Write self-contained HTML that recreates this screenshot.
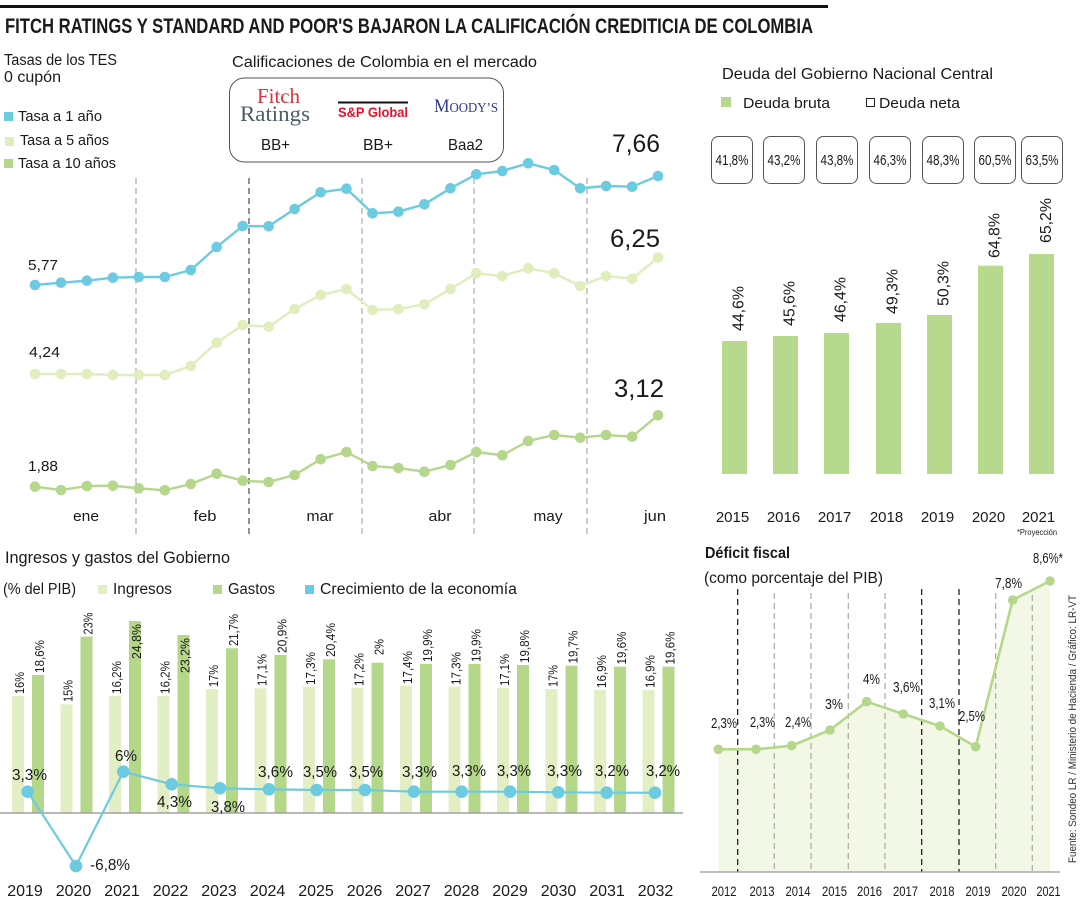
<!DOCTYPE html>
<html><head><meta charset="utf-8"><style>
html,body{margin:0;padding:0;background:#fff;}
svg{display:block;}
text{font-family:"Liberation Sans",sans-serif;fill:#1a1a1a;}
.s{font-family:"Liberation Serif",serif;}
</style></head><body>
<svg width="1080" height="900" viewBox="0 0 1080 900" xmlns="http://www.w3.org/2000/svg">
<defs>
<marker id="mb" markerUnits="userSpaceOnUse" markerWidth="14" markerHeight="14" refX="7" refY="7"><circle cx="7" cy="7" r="5.3" fill="#6ccbe0"/></marker>
<marker id="m5" markerUnits="userSpaceOnUse" markerWidth="14" markerHeight="14" refX="7" refY="7"><circle cx="7" cy="7" r="5.3" fill="#e0edbd"/></marker>
<marker id="m10" markerUnits="userSpaceOnUse" markerWidth="14" markerHeight="14" refX="7" refY="7"><circle cx="7" cy="7" r="5.3" fill="#b5d78b"/></marker>
<marker id="mg" markerUnits="userSpaceOnUse" markerWidth="16" markerHeight="16" refX="8" refY="8"><circle cx="8" cy="8" r="6.3" fill="#6ccbe0"/></marker>
<marker id="md" markerUnits="userSpaceOnUse" markerWidth="12" markerHeight="12" refX="6" refY="6"><circle cx="6" cy="6" r="4.8" fill="#b5d78b"/></marker>
</defs>

<!-- top rule and title -->
<rect x="0" y="5" width="828" height="3" fill="#111"/>
<text x="5" y="33" font-size="21" font-weight="bold" textLength="808" lengthAdjust="spacingAndGlyphs">FITCH RATINGS Y STANDARD AND POOR'S BAJARON LA CALIFICACIÓN CREDITICIA DE COLOMBIA</text>

<!-- TES header + legend -->
<text x="4" y="65" font-size="15.5" textLength="113" lengthAdjust="spacingAndGlyphs">Tasas de los TES</text>
<text x="4" y="82" font-size="15.5" textLength="57" lengthAdjust="spacingAndGlyphs">0 cupón</text>
<rect x="4" y="112" width="9" height="9" fill="#6ccbe0"/>
<text x="18" y="121" font-size="15" textLength="84" lengthAdjust="spacingAndGlyphs">Tasa a 1 año</text>
<rect x="5" y="137" width="9" height="9" fill="#e0edbd"/>
<text x="20" y="145" font-size="15" textLength="89" lengthAdjust="spacingAndGlyphs">Tasa a 5 años</text>
<rect x="4" y="159" width="9" height="9" fill="#b5d78b"/>
<text x="18" y="168" font-size="15" textLength="98" lengthAdjust="spacingAndGlyphs">Tasa a 10 años</text>

<!-- ratings -->
<text x="232" y="67" font-size="15.5" textLength="305" lengthAdjust="spacingAndGlyphs">Calificaciones de Colombia en el mercado</text>
<rect x="229.5" y="78" width="274" height="84" rx="15" fill="#fff" stroke="#555" stroke-width="1"/>
<text class="s" x="257" y="103" font-size="21" fill="#d8323c" style="fill:#d8323c" textLength="43" lengthAdjust="spacingAndGlyphs">Fitch</text>
<text class="s" x="240" y="121" font-size="22" style="fill:#4d5d66" textLength="70" lengthAdjust="spacingAndGlyphs">Ratings</text>
<line x1="338" y1="102.5" x2="408" y2="102.5" stroke="#111" stroke-width="2"/>
<text x="338" y="117" font-size="13.5" font-weight="bold" style="fill:#e8112d" textLength="70" lengthAdjust="spacingAndGlyphs">S&amp;P Global</text>
<text class="s" x="434" y="112" font-size="19" style="fill:#2b3990" textLength="64" lengthAdjust="spacingAndGlyphs">M<tspan font-size="14">OODY’S</tspan></text>
<text x="261" y="150" font-size="16" textLength="29" lengthAdjust="spacingAndGlyphs">BB+</text>
<text x="363" y="150" font-size="16" textLength="30" lengthAdjust="spacingAndGlyphs">BB+</text>
<text x="448" y="150" font-size="16" textLength="35" lengthAdjust="spacingAndGlyphs">Baa2</text>

<!-- line chart dashed -->
<g stroke-width="1" stroke-dasharray="6 4" fill="none">
<line x1="136" y1="178" x2="136" y2="537" stroke="#999"/>
<line x1="249" y1="178" x2="249" y2="537" stroke="#222"/>
<line x1="362" y1="178" x2="362" y2="537" stroke="#999"/>
<line x1="474" y1="178" x2="474" y2="537" stroke="#999"/>
<line x1="587" y1="178" x2="587" y2="537" stroke="#999"/>
</g>
<g fill="none" stroke-width="2.4" stroke-linejoin="round">
<polyline stroke="#6ccbe0" marker-start="url(#mb)" marker-mid="url(#mb)" marker-end="url(#mb)" points="35,285 61,282.7 86.9,280.7 112.9,277.7 138.8,277 164.8,277 190.8,270 216.7,247 242.7,226 268.6,226.3 294.6,209 320.6,192.3 346.5,188.7 372.5,213.3 398.4,211.7 424.4,204.3 450.4,188.3 476.3,174.3 502.3,171 528.2,163.3 554.2,170 580.2,188.3 606.1,186 632.1,186.7 658,176"/>
<polyline stroke="#e0edbd" marker-start="url(#m5)" marker-mid="url(#m5)" marker-end="url(#m5)" points="35,374 61,374 86.9,374 112.9,375 138.8,375 164.8,375 190.8,366 216.7,342.7 242.7,325 268.6,326.7 294.6,309 320.6,295 346.5,289 372.5,310 398.4,309 424.4,304.3 450.4,289 476.3,273.3 502.3,276 528.2,268.3 554.2,273.3 580.2,286 606.1,276 632.1,278.7 658,257.7"/>
<polyline stroke="#b5d78b" marker-start="url(#m10)" marker-mid="url(#m10)" marker-end="url(#m10)" points="35,486.7 61,490 86.9,486 112.9,485.7 138.8,488.3 164.8,490.3 190.8,484 216.7,473.7 242.7,480.7 268.6,482 294.6,475 320.6,459.3 346.5,452 372.5,466 398.4,468 424.4,471.7 450.4,465 476.3,452 502.3,455.3 528.2,441 554.2,435 580.2,437.7 606.1,435 632.1,436.7 658,415.3"/>
</g>
<text x="28" y="270" font-size="15" textLength="30" lengthAdjust="spacingAndGlyphs">5,77</text>
<text x="29" y="357" font-size="15" textLength="31" lengthAdjust="spacingAndGlyphs">4,24</text>
<text x="28" y="471" font-size="15" textLength="30" lengthAdjust="spacingAndGlyphs">1,88</text>
<text x="612" y="152" font-size="25" textLength="48" lengthAdjust="spacingAndGlyphs">7,66</text>
<text x="610" y="247" font-size="25" textLength="50" lengthAdjust="spacingAndGlyphs">6,25</text>
<text x="614" y="397" font-size="25" textLength="50" lengthAdjust="spacingAndGlyphs">3,12</text>
<g font-size="15" text-anchor="middle">
<text x="86" y="521" textLength="26" lengthAdjust="spacingAndGlyphs">ene</text>
<text x="205" y="521" textLength="23" lengthAdjust="spacingAndGlyphs">feb</text>
<text x="320" y="521" textLength="27" lengthAdjust="spacingAndGlyphs">mar</text>
<text x="440" y="521" textLength="23" lengthAdjust="spacingAndGlyphs">abr</text>
<text x="548" y="521" textLength="29" lengthAdjust="spacingAndGlyphs">may</text>
<text x="655" y="521" textLength="22" lengthAdjust="spacingAndGlyphs">jun</text>
</g>

<!-- Deuda -->
<text x="722" y="79" font-size="16" textLength="271" lengthAdjust="spacingAndGlyphs">Deuda del Gobierno Nacional Central</text>
<rect x="721" y="97" width="10" height="10" fill="#b6d98e"/>
<text x="743" y="108" font-size="15" textLength="87" lengthAdjust="spacingAndGlyphs">Deuda bruta</text>
<rect x="866.5" y="98.5" width="8" height="8" fill="none" stroke="#222" stroke-width="1"/>
<text x="879" y="108" font-size="15" textLength="81" lengthAdjust="spacingAndGlyphs">Deuda neta</text>
<g fill="#fff" stroke="#555" stroke-width="1">
<rect x="711.5" y="136.5" width="41" height="47" rx="7"/>
<rect x="763.5" y="136.5" width="41" height="47" rx="7"/>
<rect x="816.5" y="136.5" width="41" height="47" rx="7"/>
<rect x="869.5" y="136.5" width="41" height="47" rx="7"/>
<rect x="922.5" y="136.5" width="41" height="47" rx="7"/>
<rect x="974.5" y="136.5" width="41" height="47" rx="7"/>
<rect x="1021.5" y="136.5" width="41" height="47" rx="7"/>
</g>
<g font-size="15" text-anchor="middle">
<text x="732" y="165" textLength="33" lengthAdjust="spacingAndGlyphs">41,8%</text>
<text x="784" y="165" textLength="33" lengthAdjust="spacingAndGlyphs">43,2%</text>
<text x="837" y="165" textLength="33" lengthAdjust="spacingAndGlyphs">43,8%</text>
<text x="890" y="165" textLength="33" lengthAdjust="spacingAndGlyphs">46,3%</text>
<text x="943" y="165" textLength="33" lengthAdjust="spacingAndGlyphs">48,3%</text>
<text x="995" y="165" textLength="33" lengthAdjust="spacingAndGlyphs">60,5%</text>
<text x="1042" y="165" textLength="33" lengthAdjust="spacingAndGlyphs">63,5%</text>
</g>
<g fill="#b6d98e">
<rect x="722" y="341" width="25" height="133"/>
<rect x="773" y="336" width="25" height="138"/>
<rect x="824" y="333" width="25" height="141"/>
<rect x="876" y="323" width="25" height="151"/>
<rect x="927" y="315" width="25" height="159"/>
<rect x="978" y="265.7" width="25" height="208.3"/>
<rect x="1029" y="254" width="25" height="220"/>
</g>
<g font-size="16">
<text transform="translate(743.5,331) rotate(-90)" textLength="45" lengthAdjust="spacingAndGlyphs">44,6%</text>
<text transform="translate(794.5,326) rotate(-90)" textLength="45" lengthAdjust="spacingAndGlyphs">45,6%</text>
<text transform="translate(845.5,322) rotate(-90)" textLength="45" lengthAdjust="spacingAndGlyphs">46,4%</text>
<text transform="translate(897.5,314) rotate(-90)" textLength="45" lengthAdjust="spacingAndGlyphs">49,3%</text>
<text transform="translate(948.5,306) rotate(-90)" textLength="45" lengthAdjust="spacingAndGlyphs">50,3%</text>
<text transform="translate(999.5,258) rotate(-90)" textLength="45" lengthAdjust="spacingAndGlyphs">64,8%</text>
<text transform="translate(1051,243) rotate(-90)" textLength="45" lengthAdjust="spacingAndGlyphs">65,2%</text>
</g>
<g font-size="15" text-anchor="middle">
<text x="732.5" y="522">2015</text>
<text x="783.5" y="522">2016</text>
<text x="834.5" y="522">2017</text>
<text x="886.5" y="522">2018</text>
<text x="937.5" y="522">2019</text>
<text x="988.5" y="522">2020</text>
<text x="1038.5" y="522">2021</text>
</g>
<text x="1017" y="535" font-size="8" textLength="40" lengthAdjust="spacingAndGlyphs">*Proyección</text>

<!-- Ingresos y gastos -->
<text x="5" y="563" font-size="16.5" textLength="225" lengthAdjust="spacingAndGlyphs">Ingresos y gastos del Gobierno</text>
<text x="3" y="594" font-size="15.5" textLength="73" lengthAdjust="spacingAndGlyphs">(% del PIB)</text>
<rect x="98" y="585" width="9" height="9" fill="#e2eec3"/>
<text x="113" y="594" font-size="15.5" textLength="59" lengthAdjust="spacingAndGlyphs">Ingresos</text>
<rect x="213" y="585" width="9" height="9" fill="#b4d78a"/>
<text x="228" y="594" font-size="15.5" textLength="47" lengthAdjust="spacingAndGlyphs">Gastos</text>
<rect x="305" y="585" width="9" height="9" fill="#6ccbe0"/>
<text x="320" y="594" font-size="15.5" textLength="197" lengthAdjust="spacingAndGlyphs">Crecimiento de la economía</text>

<g fill="#e2eec3">
<rect x="12" y="696" width="12" height="117"/>
<rect x="60.5" y="704.3" width="12" height="108.7"/>
<rect x="109" y="696" width="12" height="117"/>
<rect x="157.5" y="696" width="12" height="117"/>
<rect x="206" y="689" width="12" height="124"/>
<rect x="254.5" y="688.3" width="12" height="124.7"/>
<rect x="303" y="686.7" width="12" height="126.3"/>
<rect x="351.5" y="687.7" width="12" height="125.3"/>
<rect x="400" y="685.7" width="12" height="127.3"/>
<rect x="448.5" y="686.7" width="12" height="126.3"/>
<rect x="497" y="687.7" width="12" height="125.3"/>
<rect x="545.5" y="689" width="12" height="124"/>
<rect x="594" y="690" width="12" height="123"/>
<rect x="642.5" y="690" width="12" height="123"/>
</g>
<g fill="#b4d78a">
<rect x="32" y="675" width="12" height="138"/>
<rect x="80.5" y="636.7" width="12" height="176.3"/>
<rect x="129" y="621" width="12" height="192"/>
<rect x="177.5" y="635" width="12" height="178"/>
<rect x="226" y="648.3" width="12" height="164.7"/>
<rect x="274.5" y="655" width="12" height="158"/>
<rect x="323" y="659.3" width="12" height="153.7"/>
<rect x="371.5" y="662.7" width="12" height="150.3"/>
<rect x="420" y="664" width="12" height="149"/>
<rect x="468.5" y="664" width="12" height="149"/>
<rect x="517" y="665" width="12" height="148"/>
<rect x="565.5" y="665.7" width="12" height="147.3"/>
<rect x="614" y="666.7" width="12" height="146.3"/>
<rect x="662.5" y="666.7" width="12" height="146.3"/>
</g>
<g font-size="13">
<text transform="translate(24,694) rotate(-90)" textLength="22" lengthAdjust="spacingAndGlyphs">16%</text>
<text transform="translate(72.5,702) rotate(-90)" textLength="22" lengthAdjust="spacingAndGlyphs">15%</text>
<text transform="translate(121,694) rotate(-90)" textLength="33" lengthAdjust="spacingAndGlyphs">16,2%</text>
<text transform="translate(169.5,694) rotate(-90)" textLength="33" lengthAdjust="spacingAndGlyphs">16,2%</text>
<text transform="translate(218,687) rotate(-90)" textLength="22" lengthAdjust="spacingAndGlyphs">17%</text>
<text transform="translate(266.5,686) rotate(-90)" textLength="32" lengthAdjust="spacingAndGlyphs">17,1%</text>
<text transform="translate(315,685) rotate(-90)" textLength="33" lengthAdjust="spacingAndGlyphs">17,3%</text>
<text transform="translate(363.5,686) rotate(-90)" textLength="33" lengthAdjust="spacingAndGlyphs">17,2%</text>
<text transform="translate(412,684) rotate(-90)" textLength="33" lengthAdjust="spacingAndGlyphs">17,4%</text>
<text transform="translate(460.5,685) rotate(-90)" textLength="33" lengthAdjust="spacingAndGlyphs">17,3%</text>
<text transform="translate(509,686) rotate(-90)" textLength="32" lengthAdjust="spacingAndGlyphs">17,1%</text>
<text transform="translate(557.5,687) rotate(-90)" textLength="22" lengthAdjust="spacingAndGlyphs">17%</text>
<text transform="translate(606,688) rotate(-90)" textLength="33" lengthAdjust="spacingAndGlyphs">16,9%</text>
<text transform="translate(654.5,688) rotate(-90)" textLength="33" lengthAdjust="spacingAndGlyphs">16,9%</text>

<text transform="translate(44,673) rotate(-90)" textLength="33" lengthAdjust="spacingAndGlyphs">18,6%</text>
<text transform="translate(92.5,634.5) rotate(-90)" textLength="22" lengthAdjust="spacingAndGlyphs">23%</text>
<text transform="translate(141,659) rotate(-90)" textLength="35" lengthAdjust="spacingAndGlyphs">24,8%</text>
<text transform="translate(189.5,673) rotate(-90)" textLength="35" lengthAdjust="spacingAndGlyphs">23,2%</text>
<text transform="translate(238,646) rotate(-90)" textLength="32" lengthAdjust="spacingAndGlyphs">21,7%</text>
<text transform="translate(286.5,653) rotate(-90)" textLength="34" lengthAdjust="spacingAndGlyphs">20,9%</text>
<text transform="translate(335,657) rotate(-90)" textLength="34" lengthAdjust="spacingAndGlyphs">20,4%</text>
<text transform="translate(383.5,655) rotate(-90)" textLength="16" lengthAdjust="spacingAndGlyphs">2%</text>
<text transform="translate(432,662) rotate(-90)" textLength="33" lengthAdjust="spacingAndGlyphs">19,9%</text>
<text transform="translate(480.5,662) rotate(-90)" textLength="33" lengthAdjust="spacingAndGlyphs">19,9%</text>
<text transform="translate(529,663) rotate(-90)" textLength="33" lengthAdjust="spacingAndGlyphs">19,8%</text>
<text transform="translate(577.5,663.5) rotate(-90)" textLength="33" lengthAdjust="spacingAndGlyphs">19,7%</text>
<text transform="translate(626,664.5) rotate(-90)" textLength="33" lengthAdjust="spacingAndGlyphs">19,6%</text>
<text transform="translate(674.5,664.5) rotate(-90)" textLength="33" lengthAdjust="spacingAndGlyphs">19,6%</text>
</g>
<line x1="0" y1="813" x2="683" y2="813" stroke="#a0a0a0" stroke-width="1.5"/>
<polyline fill="none" stroke="#6ccbe0" stroke-width="2.2" stroke-linejoin="round" marker-start="url(#mg)" marker-mid="url(#mg)" marker-end="url(#mg)" points="27.7,791.7 76,866 123.3,771.7 171.7,784.3 220,788.3 269,789.3 316.7,790 365,790 414,791.7 461.7,791.7 510,791.7 558.3,792.3 606.7,792.7 655,792.7"/>
<g font-size="16">
<text x="12" y="780" textLength="35" lengthAdjust="spacingAndGlyphs">3,3%</text>
<text x="90" y="870" textLength="40" lengthAdjust="spacingAndGlyphs">-6,8%</text>
<text x="115" y="761" textLength="22" lengthAdjust="spacingAndGlyphs">6%</text>
<text x="157" y="807" textLength="35" lengthAdjust="spacingAndGlyphs">4,3%</text>
<text x="211" y="812" textLength="34" lengthAdjust="spacingAndGlyphs">3,8%</text>
<text x="258" y="777" textLength="35" lengthAdjust="spacingAndGlyphs">3,6%</text>
<text x="303" y="777" textLength="34" lengthAdjust="spacingAndGlyphs">3,5%</text>
<text x="349" y="777" textLength="34" lengthAdjust="spacingAndGlyphs">3,5%</text>
<text x="402" y="777" textLength="35" lengthAdjust="spacingAndGlyphs">3,3%</text>
<text x="452" y="776" textLength="34" lengthAdjust="spacingAndGlyphs">3,3%</text>
<text x="497" y="776" textLength="34" lengthAdjust="spacingAndGlyphs">3,3%</text>
<text x="547" y="776" textLength="35" lengthAdjust="spacingAndGlyphs">3,3%</text>
<text x="595" y="776" textLength="34" lengthAdjust="spacingAndGlyphs">3,2%</text>
<text x="646" y="776" textLength="34" lengthAdjust="spacingAndGlyphs">3,2%</text>
</g>
<g font-size="16" text-anchor="middle">
<text x="25" y="896">2019</text>
<text x="73.5" y="896">2020</text>
<text x="122" y="896">2021</text>
<text x="170.5" y="896">2022</text>
<text x="219" y="896">2023</text>
<text x="267.5" y="896">2024</text>
<text x="316" y="896">2025</text>
<text x="364.5" y="896">2026</text>
<text x="413" y="896">2027</text>
<text x="461.5" y="896">2028</text>
<text x="510" y="896">2029</text>
<text x="558.5" y="896">2030</text>
<text x="607" y="896">2031</text>
<text x="655.5" y="896">2032</text>
</g>

<!-- Deficit fiscal -->
<text x="705" y="558" font-size="16" font-weight="bold" textLength="85" lengthAdjust="spacingAndGlyphs">Déficit fiscal</text>
<text x="704" y="583" font-size="15.5" textLength="179" lengthAdjust="spacingAndGlyphs">(como porcentaje del PIB)</text>
<polygon fill="#f3f8e6" points="718.3,749.3 756,749.3 791.7,745.7 830,730 866.7,701.7 903.3,714 940,726 975.7,746.7 1012.7,600 1050,581 1050,872 718.3,872"/>
<g stroke-width="1.2" stroke-dasharray="6 4">
<line x1="737.7" y1="589" x2="737.7" y2="872" stroke="#111"/>
<line x1="774.3" y1="593" x2="774.3" y2="872" stroke="#aaa"/>
<line x1="811" y1="593" x2="811" y2="872" stroke="#aaa"/>
<line x1="848.3" y1="593" x2="848.3" y2="872" stroke="#aaa"/>
<line x1="885" y1="593" x2="885" y2="872" stroke="#aaa"/>
<line x1="921.7" y1="589" x2="921.7" y2="872" stroke="#111"/>
<line x1="959" y1="589" x2="959" y2="872" stroke="#111"/>
<line x1="995.7" y1="593" x2="995.7" y2="872" stroke="#aaa"/>
<line x1="1032.3" y1="595" x2="1032.3" y2="872" stroke="#aaa"/>
</g>
<line x1="700" y1="872" x2="1060" y2="872" stroke="#999" stroke-width="1.3"/>
<polyline fill="none" stroke="#b5d78b" stroke-width="2.6" stroke-linejoin="round" marker-start="url(#md)" marker-mid="url(#md)" marker-end="url(#md)" points="718.3,749.3 756,749.3 791.7,745.7 830,730 866.7,701.7 903.3,714 940,726 975.7,746.7 1012.7,600 1050,581"/>
<g font-size="14.5">
<text x="711" y="728" textLength="26" lengthAdjust="spacingAndGlyphs">2,3%</text>
<text x="750" y="727" textLength="25" lengthAdjust="spacingAndGlyphs">2,3%</text>
<text x="785" y="727" textLength="26" lengthAdjust="spacingAndGlyphs">2,4%</text>
<text x="825" y="709" textLength="18" lengthAdjust="spacingAndGlyphs">3%</text>
<text x="863" y="684" textLength="17" lengthAdjust="spacingAndGlyphs">4%</text>
<text x="893" y="692" textLength="27" lengthAdjust="spacingAndGlyphs">3,6%</text>
<text x="929" y="708" textLength="26" lengthAdjust="spacingAndGlyphs">3,1%</text>
<text x="959" y="721" textLength="26" lengthAdjust="spacingAndGlyphs">2,5%</text>
<text x="995" y="588" textLength="27" lengthAdjust="spacingAndGlyphs">7,8%</text>
<text x="1033" y="563" textLength="30" lengthAdjust="spacingAndGlyphs">8,6%*</text>
</g>
<g font-size="14" text-anchor="middle">
<text x="724" y="896" textLength="25" lengthAdjust="spacingAndGlyphs">2012</text>
<text x="762" y="896" textLength="25" lengthAdjust="spacingAndGlyphs">2013</text>
<text x="798" y="896" textLength="25" lengthAdjust="spacingAndGlyphs">2014</text>
<text x="834.5" y="896" textLength="25" lengthAdjust="spacingAndGlyphs">2015</text>
<text x="869.5" y="896" textLength="25" lengthAdjust="spacingAndGlyphs">2016</text>
<text x="905.5" y="896" textLength="25" lengthAdjust="spacingAndGlyphs">2017</text>
<text x="942" y="896" textLength="25" lengthAdjust="spacingAndGlyphs">2018</text>
<text x="978" y="896" textLength="25" lengthAdjust="spacingAndGlyphs">2019</text>
<text x="1014" y="896" textLength="25" lengthAdjust="spacingAndGlyphs">2020</text>
<text x="1048.5" y="896" textLength="24" lengthAdjust="spacingAndGlyphs">2021</text>
</g>
<text transform="translate(1076,863) rotate(-90)" font-size="11" style="fill:#333" textLength="268" lengthAdjust="spacingAndGlyphs">Fuente: Sondeo LR / Ministerio de Hacienda / Gráfico: LR-VT</text>
</svg>
</body></html>
